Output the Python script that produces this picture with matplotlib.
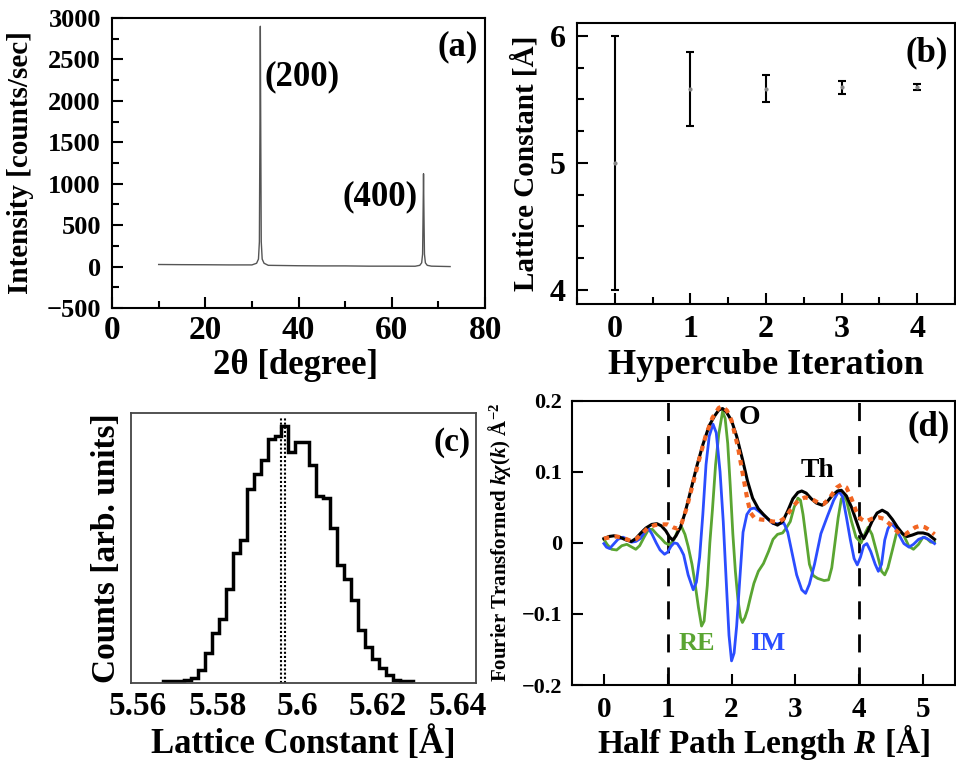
import numpy as np
import matplotlib
matplotlib.use("Agg")
import matplotlib.pyplot as plt
from matplotlib.ticker import MultipleLocator

plt.rcParams['font.family'] = ['Liberation Serif', 'DejaVu Serif']
plt.rcParams['font.weight'] = 'bold'
plt.rcParams['mathtext.fontset'] = 'custom'
plt.rcParams['mathtext.rm'] = 'Liberation Serif:bold'
plt.rcParams['mathtext.it'] = 'Liberation Serif:italic:bold'
plt.rcParams['mathtext.bf'] = 'Liberation Serif:bold'

# (a) XRD pattern
xrd_2theta = [10, 15, 20, 25, 30, 31.0, 31.4, 31.6, 31.7, 31.8, 31.9, 32.0, 32.2, 32.6, 33.5,
              40, 45, 50, 55, 60, 65, 66.0, 66.4, 66.6, 66.7, 66.8, 66.9, 67.0, 67.2, 67.6, 68.5, 72.5]
xrd_int = [25, 23, 22, 20, 20, 40, 90, 300, 1500, 2900, 1500, 300, 90, 40, 15,
           10, 8, 8, 5, 5, 4, 15, 45, 150, 600, 1120, 600, 150, 45, 15, 5, 0]

# (b) lattice constant per hypercube iteration
iteration = [0, 1, 2, 3, 4]
lat_mean = [5.0, 5.58, 5.585, 5.595, 5.598]
lat_err = [1.0, 0.29, 0.105, 0.05, 0.022]

# (c) histogram of lattice constant
hist_lo = 5.56639
hist_width = 0.001736
hist_counts = [2, 3, 4, 5, 13, 37, 88, 148, 188, 278, 387, 425, 577, 623, 663, 727, 737, 767,
               687, 717, 717, 650, 558, 550, 460, 350, 308, 245, 155, 105, 70, 43, 20, 5, 3, 2]
hist_marks = [5.5957, 5.5969]

# (d) Fourier transform
r_mag = [0.0, 0.08, 0.16, 0.25, 0.35, 0.43, 0.5, 0.58, 0.66, 0.75, 0.83, 0.9, 0.97, 1.03, 1.08,
         1.13, 1.2, 1.27, 1.35, 1.45, 1.55, 1.65, 1.73, 1.8, 1.86, 1.92, 2.0, 2.08, 2.17, 2.25,
         2.33, 2.42, 2.5, 2.58, 2.65, 2.72, 2.8, 2.88, 2.96, 3.04, 3.1, 3.17, 3.25, 3.33, 3.42,
         3.5, 3.58, 3.66, 3.72, 3.8, 3.88, 3.95, 4.02, 4.07, 4.13, 4.2, 4.28, 4.36, 4.44, 4.52,
         4.6, 4.68, 4.75, 4.83, 4.92, 5.0, 5.08, 5.18]
mag = [0.006, 0.009, 0.010, 0.008, 0.004, 0.002, 0.006, 0.014, 0.021, 0.026, 0.027, 0.024, 0.017,
       0.008, 0.004, 0.010, 0.022, 0.042, 0.070, 0.106, 0.138, 0.165, 0.178, 0.187, 0.189, 0.184,
       0.172, 0.150, 0.118, 0.087, 0.063, 0.048, 0.040, 0.033, 0.028, 0.025, 0.030, 0.045, 0.062,
       0.071, 0.073, 0.070, 0.062, 0.056, 0.053, 0.058, 0.067, 0.073, 0.074, 0.066, 0.050, 0.032,
       0.014, 0.006, 0.016, 0.030, 0.042, 0.046, 0.042, 0.033, 0.022, 0.013, 0.009, 0.011, 0.014,
       0.014, 0.012, 0.005]

r_fit = [0.0, 0.1, 0.2, 0.3, 0.42, 0.5, 0.6, 0.7, 0.8, 0.9, 1.0, 1.08, 1.15, 1.22, 1.3, 1.4, 1.5,
         1.6, 1.7, 1.8, 1.86, 1.93, 2.0, 2.1, 2.18, 2.25, 2.3, 2.36, 2.45, 2.55, 2.65, 2.75, 2.85,
         2.95, 3.05, 3.15, 3.25, 3.35, 3.45, 3.55, 3.65, 3.72, 3.8, 3.88, 3.95, 4.02, 4.1, 4.2, 4.3,
         4.38, 4.46, 4.55, 4.63, 4.72, 4.8, 4.88, 4.95, 5.03, 5.1, 5.18]
fit = [0.006, 0.008, 0.009, 0.007, 0.003, 0.005, 0.013, 0.022, 0.025, 0.026, 0.026, 0.022, 0.020,
       0.028, 0.050, 0.085, 0.120, 0.152, 0.176, 0.190, 0.192, 0.186, 0.172, 0.135, 0.095, 0.060,
       0.042, 0.035, 0.033, 0.032, 0.030, 0.030, 0.036, 0.050, 0.060, 0.064, 0.062, 0.057, 0.055,
       0.065, 0.078, 0.082, 0.078, 0.062, 0.045, 0.034, 0.030, 0.034, 0.036, 0.034, 0.028, 0.020,
       0.013, 0.012, 0.017, 0.022, 0.024, 0.022, 0.018, 0.012]

r_re = [0.0, 0.05, 0.12, 0.2, 0.28, 0.36, 0.44, 0.5, 0.56, 0.63, 0.7, 0.76, 0.83, 0.9, 0.96, 1.03,
        1.1, 1.16, 1.22, 1.27, 1.32, 1.38, 1.42, 1.48, 1.53, 1.57, 1.62, 1.66, 1.7, 1.75, 1.8, 1.86,
        1.9, 1.94, 1.98, 2.02, 2.06, 2.1, 2.14, 2.17, 2.21, 2.25, 2.3, 2.35, 2.42, 2.5, 2.58, 2.65,
        2.72, 2.8, 2.85, 2.92, 2.98, 3.04, 3.08, 3.12, 3.17, 3.22, 3.28, 3.35, 3.45, 3.52, 3.57,
        3.62, 3.67, 3.72, 3.76, 3.8, 3.88, 3.95, 4.03, 4.1, 4.14, 4.2, 4.28, 4.35, 4.4, 4.45, 4.52,
        4.58, 4.63, 4.7, 4.78, 4.85, 4.93, 5.0, 5.06, 5.12, 5.18]
re = [0.005, -0.002, -0.009, -0.010, -0.004, -0.002, -0.006, -0.009, -0.004, 0.008, 0.019, 0.019,
      0.012, 0.006, 0.000, -0.003, 0.005, 0.018, 0.022, 0.012, -0.005, -0.030, -0.052, -0.090,
      -0.117, -0.110, -0.060, 0.000, 0.046, 0.110, 0.153, 0.185, 0.175, 0.140, 0.080, 0.013,
      -0.040, -0.080, -0.105, -0.112, -0.105, -0.094, -0.075, -0.057, -0.040, -0.029, -0.012,
      0.005, 0.012, 0.014, 0.020, 0.030, 0.050, 0.063, 0.060, 0.040, 0.005, -0.030, -0.046,
      -0.050, -0.053, -0.052, -0.035, 0.000, 0.035, 0.062, 0.065, 0.060, 0.030, 0.008, 0.000,
      0.015, 0.022, 0.012, -0.015, -0.040, -0.045, -0.035, -0.010, 0.012, 0.018, 0.010, -0.005,
      -0.009, -0.002, 0.008, 0.006, 0.001, 0.001]

r_im = [0.0, 0.04, 0.09, 0.15, 0.22, 0.3, 0.37, 0.43, 0.5, 0.57, 0.65, 0.7, 0.75, 0.82, 0.88, 0.95,
        1.0, 1.05, 1.1, 1.15, 1.2, 1.25, 1.32, 1.4, 1.45, 1.5, 1.55, 1.6, 1.65, 1.71, 1.76, 1.82,
        1.87, 1.92, 1.96, 2.0, 2.04, 2.08, 2.13, 2.18, 2.24, 2.3, 2.36, 2.45, 2.55, 2.65, 2.75,
        2.82, 2.88, 2.95, 3.02, 3.1, 3.16, 3.22, 3.3, 3.4, 3.5, 3.6, 3.68, 3.74, 3.8, 3.86, 3.92,
        3.97, 4.02, 4.07, 4.12, 4.18, 4.25, 4.3, 4.35, 4.4, 4.45, 4.5, 4.56, 4.62, 4.7, 4.78, 4.85,
        4.93, 5.02, 5.1, 5.18]
im = [-0.001, -0.006, -0.008, -0.002, 0.005, 0.008, 0.005, 0.001, 0.002, 0.006, 0.016, 0.020,
      0.013, 0.000, -0.010, -0.016, -0.013, -0.005, 0.000, -0.001, -0.008, -0.017, -0.045, -0.066,
      -0.055, -0.020, 0.040, 0.110, 0.150, 0.167, 0.155, 0.100, 0.030, -0.060, -0.130, -0.166,
      -0.155, -0.117, -0.050, 0.015, 0.040, 0.048, 0.049, 0.043, 0.035, 0.027, 0.027, 0.028,
      0.015, -0.015, -0.045, -0.066, -0.071, -0.058, -0.030, 0.013, 0.037, 0.060, 0.073, 0.065,
      0.036, 0.005, -0.022, -0.031, -0.020, -0.004, -0.001, -0.012, -0.030, -0.040, -0.030, 0.004,
      0.020, 0.027, 0.022, 0.012, -0.001, -0.006, -0.002, 0.005, 0.008, 0.004, -0.001]
window = [1, 4]

fig = plt.figure(figsize=(9.56, 7.62), dpi=100)

def style(ax, lw=1.5):
    for s in ax.spines.values():
        s.set_linewidth(lw)
    ax.tick_params(which='both', direction='in', top=False, right=False, width=1.5)
    ax.tick_params(which='major', length=8)
    ax.tick_params(which='minor', length=5)

# ---- (a)
ax = fig.add_axes([0.1172, 0.5958, 0.3902, 0.3806])
ax.plot(xrd_2theta, xrd_int, color='#555555', lw=1)
ax.set_xlim(0, 80)
ax.set_ylim(-500, 3000)
ax.xaxis.set_major_locator(MultipleLocator(20))
ax.xaxis.set_minor_locator(MultipleLocator(10))
ax.yaxis.set_major_locator(MultipleLocator(500))
ax.yaxis.set_minor_locator(MultipleLocator(250))
style(ax)
ax.tick_params(axis='x', labelsize=24, pad=5)
ax.tick_params(axis='y', labelsize=19, pad=8)
ax.set_xlabel('2θ [degree]', fontsize=25, fontweight='bold')
ax.set_ylabel('Intensity [counts/sec]', fontsize=21, fontweight='bold')
ax.yaxis.set_label_coords(-0.209, 0.5)
ax.xaxis.set_label_coords(0.493, -0.14)
ax.text(32.8, 2288, '(200)', fontsize=25, fontweight='bold', ha='left', va='center')
ax.text(65.6, 840, '(400)', fontsize=25, fontweight='bold', ha='right', va='center')
ax.text(0.981, 0.9, '(a)', transform=ax.transAxes, fontsize=25, fontweight='bold', ha='right', va='center')

# ---- (b)
ax = fig.add_axes([0.6036, 0.6010, 0.3954, 0.3688])
ax.errorbar(iteration, lat_mean, yerr=lat_err, fmt='o', ms=2, color='#888888',
            ecolor='black', elinewidth=1.5, capsize=3, capthick=1.5)
ax.set_xlim(-0.5, 4.5)
ax.set_ylim(3.89, 6.1)
ax.xaxis.set_major_locator(MultipleLocator(1))
ax.xaxis.set_minor_locator(MultipleLocator(0.5))
ax.yaxis.set_major_locator(MultipleLocator(1))
ax.yaxis.set_minor_locator(MultipleLocator(0.25))
style(ax)
ax.tick_params(axis='both', labelsize=23, pad=8)
ax.set_xlabel('Hypercube Iteration', fontsize=26, fontweight='bold')
ax.set_ylabel('Lattice Constant [Å]', fontsize=21, fontweight='bold')
ax.yaxis.set_label_coords(-0.10, 0.5)
ax.xaxis.set_label_coords(0.5, -0.16)
ax.text(0.981, 0.893, '(b)', transform=ax.transAxes, fontsize=25, fontweight='bold', ha='right', va='center')

# ---- (c)
ax = fig.add_axes([0.1370, 0.1037, 0.3609, 0.3543])
edges = hist_lo + hist_width * np.arange(len(hist_counts) + 1)
ax.stairs(hist_counts, edges, color='black', lw=2.5)
for m in hist_marks:
    ax.axvline(m, ymin=0, ymax=0.98, color='black', lw=1.5, ls=(0, (1, 1)))
ax.set_xlim(5.5583, 5.6445)
ax.set_ylim(-3, 805)
ax.set_xticks([5.56, 5.58, 5.6, 5.62, 5.64])
ax.set_xticklabels(['5.56', '5.58', '5.6', '5.62', '5.64'])
ax.set_yticks([])
for s in ax.spines.values():
    s.set_linewidth(1.3)
    s.set_color('#444444')
ax.tick_params(axis='x', length=0, labelsize=24, pad=6)
ax.set_xlabel('Lattice Constant [Å]', fontsize=25, fontweight='bold')
ax.set_ylabel('Counts [arb. units]', fontsize=24, fontweight='bold')
ax.yaxis.set_label_coords(-0.025, 0.5)
ax.xaxis.set_label_coords(0.5, -0.16)
ax.text(0.983, 0.889, '(c)', transform=ax.transAxes, fontsize=24, fontweight='bold', ha='right', va='center')

# ---- (d)
ax = fig.add_axes([0.5983, 0.1010, 0.4006, 0.3731])
for w in window:
    ax.axvline(w, color='black', lw=2, ls=(0, (6.5, 5.4)))
ax.plot(r_re, re, color='#5aa532', lw=2)
ax.plot(r_im, im, color='#2b4dff', lw=2)
ax.plot(r_mag, mag, color='black', lw=2.2)
ax.plot(r_fit, fit, color='#f26522', lw=3, ls=(0, (1.3, 1.3)))
ax.set_xlim(-0.5, 5.5)
ax.set_ylim(-0.2, 0.2)
ax.xaxis.set_major_locator(MultipleLocator(1))
ax.set_yticks([-0.2, -0.1, 0, 0.1, 0.2])
ax.set_yticklabels(['−0.2', '−0.1', '0', '0.1', '0.2'])
style(ax)
ax.tick_params(axis='x', labelsize=21, pad=8)
ax.tick_params(axis='y', labelsize=16, pad=7)
ax.set_xlabel('Half Path Length $R$ [Å]', fontsize=24, fontweight='bold')
ax.set_ylabel('Fourier Transformed $k\\chi(k)$ Å$^{-2}$', fontsize=15, fontweight='bold')
ax.yaxis.set_label_coords(-0.154, 0.5)
ax.xaxis.set_label_coords(0.5, -0.135)
ax.text(2.28, 0.176, 'O', fontsize=20, fontweight='bold', ha='center', va='center')
ax.text(3.34, 0.102, 'Th', fontsize=20, fontweight='bold', ha='center', va='center')
ax.text(1.45, -0.141, 'RE', fontsize=19, fontweight='bold', color='#5aa532', ha='center', va='center')
ax.text(2.56, -0.141, 'IM', fontsize=19, fontweight='bold', color='#2b4dff', ha='center', va='center')
ax.text(0.987, 0.907, '(d)', transform=ax.transAxes, fontsize=25, fontweight='bold', ha='right', va='center')

fig.savefig('out.png', dpi=100)
